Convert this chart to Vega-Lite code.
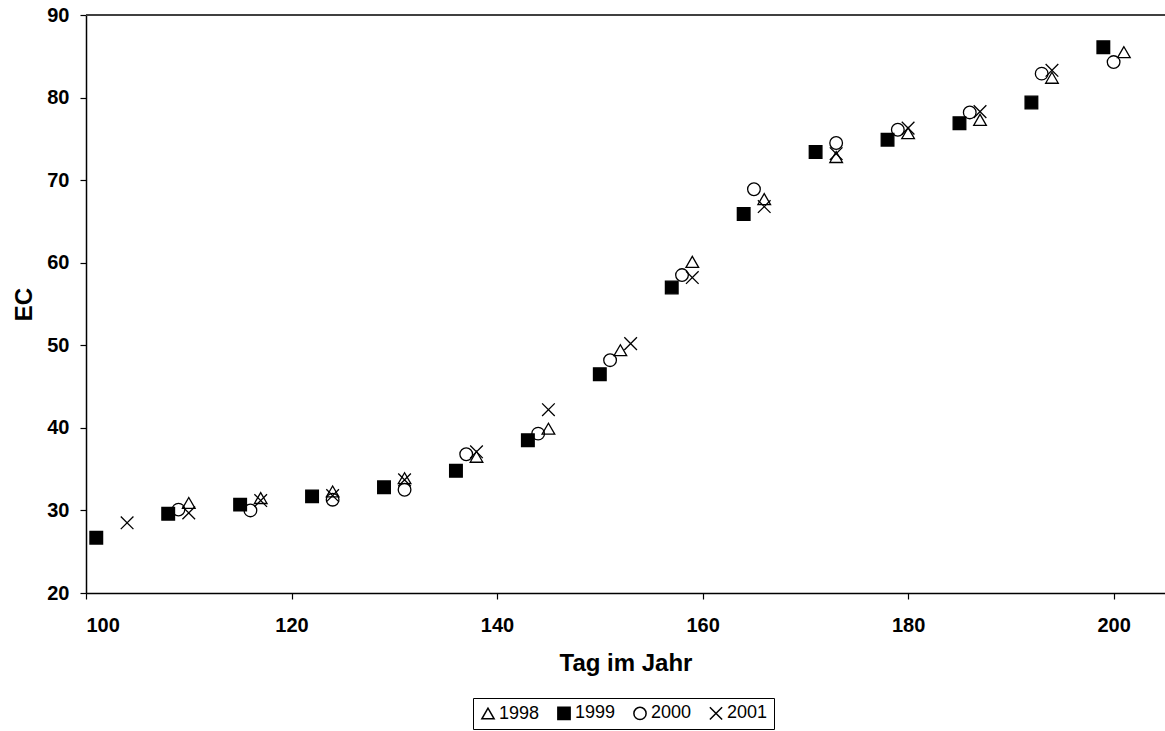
{
  "$schema": "https://vega.github.io/schema/vega-lite/v6.json",
  "autosize": {"type": "none"},
  "padding": {"left": 86, "top": 15, "right": 0, "bottom": 138},
  "width": 1079,
  "height": 578,
  "background": "white",
  "config": {
    "view": {"stroke": null},
    "font": "Liberation Sans",
    "axis": {
      "grid": false,
      "domainColor": "black",
      "domainWidth": 1.5,
      "tickColor": "black",
      "tickWidth": 1.2,
      "tickSize": 6,
      "labelFont": "Liberation Sans",
      "labelFontWeight": "bold",
      "labelFontSize": 20,
      "labelColor": "black",
      "titleFont": "Liberation Sans",
      "titleFontWeight": "bold",
      "titleFontSize": 24,
      "titleColor": "black"
    }
  },
  "data": {
    "values": [
      {"tag": 110, "ec": 30.9, "jahr": "1998"},
      {"tag": 117, "ec": 31.5, "jahr": "1998"},
      {"tag": 124, "ec": 32.3, "jahr": "1998"},
      {"tag": 131, "ec": 33.9, "jahr": "1998"},
      {"tag": 138, "ec": 36.5, "jahr": "1998"},
      {"tag": 145, "ec": 39.9, "jahr": "1998"},
      {"tag": 152, "ec": 49.4, "jahr": "1998"},
      {"tag": 159, "ec": 60.1, "jahr": "1998"},
      {"tag": 166, "ec": 67.7, "jahr": "1998"},
      {"tag": 173, "ec": 72.8, "jahr": "1998"},
      {"tag": 180, "ec": 75.7, "jahr": "1998"},
      {"tag": 187, "ec": 77.3, "jahr": "1998"},
      {"tag": 194, "ec": 82.4, "jahr": "1998"},
      {"tag": 201, "ec": 85.5, "jahr": "1998"},
      {"tag": 101, "ec": 26.7, "jahr": "1999"},
      {"tag": 108, "ec": 29.6, "jahr": "1999"},
      {"tag": 115, "ec": 30.7, "jahr": "1999"},
      {"tag": 122, "ec": 31.7, "jahr": "1999"},
      {"tag": 129, "ec": 32.8, "jahr": "1999"},
      {"tag": 136, "ec": 34.8, "jahr": "1999"},
      {"tag": 143, "ec": 38.5, "jahr": "1999"},
      {"tag": 150, "ec": 46.5, "jahr": "1999"},
      {"tag": 157, "ec": 57.0, "jahr": "1999"},
      {"tag": 164, "ec": 65.9, "jahr": "1999"},
      {"tag": 171, "ec": 73.4, "jahr": "1999"},
      {"tag": 178, "ec": 74.9, "jahr": "1999"},
      {"tag": 185, "ec": 76.9, "jahr": "1999"},
      {"tag": 192, "ec": 79.4, "jahr": "1999"},
      {"tag": 199, "ec": 86.1, "jahr": "1999"},
      {"tag": 109, "ec": 30.1, "jahr": "2000"},
      {"tag": 116, "ec": 30.0, "jahr": "2000"},
      {"tag": 124, "ec": 31.3, "jahr": "2000"},
      {"tag": 131, "ec": 32.5, "jahr": "2000"},
      {"tag": 137, "ec": 36.8, "jahr": "2000"},
      {"tag": 144, "ec": 39.3, "jahr": "2000"},
      {"tag": 151, "ec": 48.2, "jahr": "2000"},
      {"tag": 158, "ec": 58.5, "jahr": "2000"},
      {"tag": 165, "ec": 68.9, "jahr": "2000"},
      {"tag": 173, "ec": 74.5, "jahr": "2000"},
      {"tag": 179, "ec": 76.1, "jahr": "2000"},
      {"tag": 186, "ec": 78.2, "jahr": "2000"},
      {"tag": 193, "ec": 82.9, "jahr": "2000"},
      {"tag": 200, "ec": 84.3, "jahr": "2000"},
      {"tag": 104, "ec": 28.5, "jahr": "2001"},
      {"tag": 110, "ec": 29.7, "jahr": "2001"},
      {"tag": 117, "ec": 31.2, "jahr": "2001"},
      {"tag": 124, "ec": 31.8, "jahr": "2001"},
      {"tag": 131, "ec": 33.7, "jahr": "2001"},
      {"tag": 138, "ec": 37.1, "jahr": "2001"},
      {"tag": 145, "ec": 42.2, "jahr": "2001"},
      {"tag": 153, "ec": 50.2, "jahr": "2001"},
      {"tag": 159, "ec": 58.2, "jahr": "2001"},
      {"tag": 166, "ec": 66.8, "jahr": "2001"},
      {"tag": 173, "ec": 73.2, "jahr": "2001"},
      {"tag": 180, "ec": 76.3, "jahr": "2001"},
      {"tag": 187, "ec": 78.3, "jahr": "2001"},
      {"tag": 194, "ec": 83.3, "jahr": "2001"}
    ]
  },
  "layer": [
    {
      "mark": {"type": "rule", "color": "#404040", "strokeWidth": 1.5},
      "encoding": {"y": {"datum": 90, "type": "quantitative"}}
    },
    {
      "mark": {"type": "point", "filled": false, "size": 160, "strokeWidth": 1.3, "stroke": "black", "opacity": 1},
      "encoding": {
        "x": {
          "field": "tag", "type": "quantitative",
          "scale": {"domain": [100, 205], "nice": false, "zero": false},
          "axis": {"values": [100, 120, 140, 160, 180, 200], "title": "Tag im Jahr", "labelPadding": 16, "titlePadding": 16}
        },
        "y": {
          "field": "ec", "type": "quantitative",
          "scale": {"domain": [20, 90], "nice": false, "zero": false},
          "axis": {"values": [20, 30, 40, 50, 60, 70, 80, 90], "title": "EC", "labelPadding": 11, "titlePadding": 10}
        },
        "shape": {
          "field": "jahr", "type": "nominal",
          "scale": {"domain": ["1998", "1999", "2000", "2001"], "range": ["triangle-up", "square", "circle", "M-1,-1L1,1M1,-1L-1,1"]},
          "legend": {
            "title": null,
            "orient": "none",
            "direction": "horizontal",
            "legendX": 387,
            "legendY": 683,
            "strokeColor": "black",
            "padding": 6,
            "labelFont": "Liberation Sans",
            "labelFontSize": 18,
            "labelColor": "black",
            "symbolSize": 150,
            "columnPadding": 14,
            "labelOffset": 2,
            "encode": {"symbols": {"update": {"stroke": {"value": "black"}, "strokeWidth": {"value": 1}}}}
          }
        },
        "fill": {
          "field": "jahr", "type": "nominal",
          "scale": {"domain": ["1998", "1999", "2000", "2001"], "range": ["transparent", "black", "transparent", "transparent"]},
          "legend": null
        }
      }
    }
  ]
}
